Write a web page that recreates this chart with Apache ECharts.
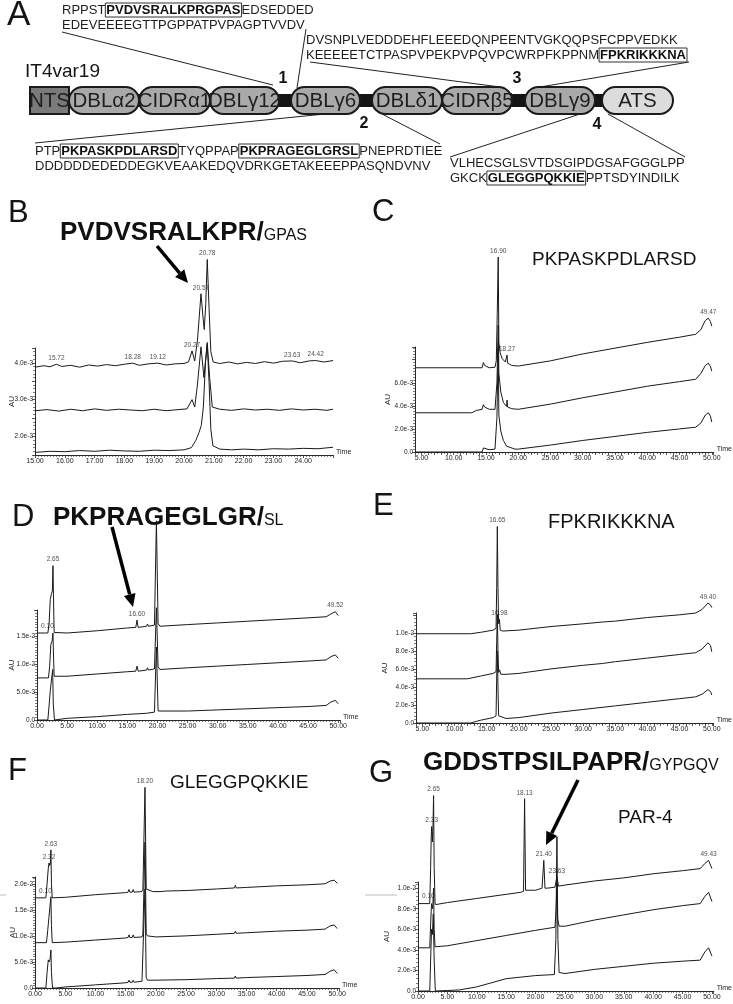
<!DOCTYPE html>
<html><head><meta charset="utf-8">
<script src="https://cdn.jsdelivr.net/npm/echarts@6.0.0/dist/echarts.min.js"></script>
<style>html,body{margin:0;padding:0;background:#fff}#c{width:733px;height:1004px}</style>
</head><body><div id="c"></div>
<script>
// ================= DATA =================
// Panel A
const domainNames = ['NTS','DBLα2','CIDRα1','DBLγ12','DBLγ6','DBLδ1','CIDRβ5','DBLγ9','ATS'];
const seq1 = [[['RPPST',0],['PVDVSRALKPRGPAS',1],['EDSEDDED',0]], [['EDEVEEEEGTTPGPPATPVPAGPTVVDV',0]]];
const seq3 = [[['DVSNPLVEDDDEHFLEEEDQNPEENTVGKQQPSFCPPVEDKK',0]], [['KEEEEETCTPASPVPEKPVPQVPCWRPFKPPNM',0],['FPKRIKKKNA',1]]];
const seq2 = [[['PTP',0],['PKPASKPDLARSD',1],['TYQPPAP',0],['PKPRAGEGLGRSL',1],['PNEPRDTIEE',0]], [['DDDDDDEDEDDEGKVEAAKEDQVDRKGETAKEEEPPASQNDVNV',0]]];
const seq4 = [[['VLHECSGLSVTDSGIPDGSAFGGGLPP',0]], [['GKCK',0],['GLEGGPQKKIE',1],['PPTSDYINDILK',0]]];

// Chromatograms: [time (min), absorbance (x1e-3 AU)]
const B_top = [[15,3.88],[15.3,3.92],[15.5,3.89],[15.72,3.96],[15.9,3.9],[16.2,3.93],[16.5,3.88],[16.8,3.94],[17.1,3.91],[17.4,3.95],[17.7,3.92],[18.0,3.96],[18.28,3.99],[18.5,3.93],[18.8,3.97],[19.12,3.99],[19.4,3.94],[19.7,3.97],[20.0,3.98],[20.15,4.02],[20.27,4.32],[20.36,4.05],[20.45,4.6],[20.57,5.87],[20.63,5.3],[20.68,4.9],[20.73,5.6],[20.78,6.8],[20.84,5.5],[20.9,4.3],[20.98,4.02],[21.2,3.98],[21.5,4.02],[21.8,3.97],[22.1,4.01],[22.4,3.98],[22.7,4.03],[23.0,3.99],[23.3,4.04],[23.63,4.05],[23.9,4.0],[24.2,4.05],[24.42,4.06],[24.7,4.02],[25,4.06]];
const B_mid = [[15,2.7],[15.4,2.73],[15.8,2.69],[16.2,2.74],[16.6,2.7],[17.0,2.75],[17.4,2.71],[17.8,2.74],[18.2,2.72],[18.6,2.7],[19.0,2.74],[19.4,2.7],[19.8,2.73],[20.1,2.75],[20.27,3.0],[20.36,2.8],[20.45,3.4],[20.57,4.43],[20.67,3.6],[20.78,4.55],[20.86,3.6],[20.95,2.8],[21.2,2.74],[21.6,2.71],[22.0,2.75],[22.4,2.72],[22.8,2.74],[23.2,2.71],[23.6,2.75],[24.0,2.72],[24.4,2.74],[24.8,2.71],[25,2.74]];
const B_bot = [[15,1.57],[15.5,1.6],[16,1.59],[16.5,1.62],[17,1.6],[17.5,1.63],[18,1.61],[18.5,1.6],[19,1.63],[19.5,1.62],[20,1.64],[20.25,1.7],[20.4,1.9],[20.5,2.1],[20.58,2.3],[20.65,2.8],[20.72,4.0],[20.78,4.5],[20.84,3.5],[20.9,2.2],[20.97,1.75],[21.2,1.66],[21.6,1.64],[22,1.66],[22.5,1.64],[23,1.67],[23.5,1.66],[24,1.68],[24.5,1.67],[25,1.71]];
const B_peaks = [[15.72,3.96],[18.28,3.99],[19.12,3.99],[20.27,4.32],[20.57,5.87],[20.78,6.8],[23.63,4.05],[24.42,4.06]];

const C_top = [[4,7.3],[14.4,7.3],[14.6,7.75],[14.8,7.5],[15.5,7.3],[16.4,7.35],[16.6,7.9],[16.75,12],[16.9,16.9],[17.0,9.5],[17.2,8.6],[17.5,8.1],[18.0,7.8],[18.2,7.8],[18.27,8.4],[18.35,7.7],[19,7.5],[20,7.45],[25,7.9],[30,8.5],[35,9.0],[40,9.5],[45,9.95],[47.5,10.2],[48.3,10.6],[49.0,11.4],[49.47,11.6],[49.8,11.3],[50,10.9]];
const C_mid = [[4,3.4],[12.8,3.4],[13.5,3.6],[14.4,3.7],[14.6,4.1],[14.8,3.9],[15.5,3.7],[16.4,3.7],[16.7,6],[16.9,11],[17.0,6.8],[17.3,5.2],[17.7,4.3],[18.2,3.95],[18.27,4.5],[18.35,3.9],[19,3.75],[20,3.7],[25,4.15],[30,4.7],[35,5.2],[40,5.7],[45,6.1],[47.5,6.3],[48.3,6.8],[49.0,7.5],[49.47,7.7],[49.8,7.4],[50,7.0]];
const C_bot = [[4,0],[14.4,0],[14.6,0.35],[14.8,0.3],[15.5,0.2],[16.4,0.25],[16.7,3],[16.9,9],[17.0,3.2],[17.3,1.8],[17.7,1.0],[18.2,0.5],[18.27,0.6],[18.5,0.35],[19.5,0.25],[20,0.25],[25,0.6],[30,1.0],[35,1.35],[40,1.7],[45,2.0],[47.5,2.15],[48.3,2.5],[49.0,3.2],[49.47,3.4],[49.8,3.1],[50,2.6]];
const C_peaks = [[16.90,16.9],[18.27,8.4],[49.47,11.6]];

const D_top = [[0,15.5],[1.8,15.5],[2.0,17],[2.2,21.5],[2.4,22.5],[2.55,23],[2.65,27.5],[2.75,21],[2.85,15.6],[3.0,15.4],[5,15.5],[10,15.9],[15,16.4],[16.4,16.5],[16.6,17.8],[16.8,16.5],[18.2,16.7],[18.35,17.1],[18.5,16.7],[19.5,16.9],[19.82,35.5],[20.1,17.2],[20.4,16.7],[25,17.0],[30,17.3],[35,17.6],[40,17.9],[45,18.2],[48,18.4],[48.8,18.9],[49.52,19.3],[50,18.6]];
const D_mid = [[0,7.5],[1.9,7.5],[2.1,9.5],[2.3,13.5],[2.5,14],[2.65,15.5],[2.75,11],[2.85,7.8],[3.0,7.6],[5,7.8],[10,8.2],[15,8.6],[16.4,8.7],[16.6,9.6],[16.8,8.7],[18.2,8.9],[18.35,9.3],[18.5,8.9],[19.5,9.1],[19.82,20],[20.1,9.5],[20.4,9.0],[25,9.3],[30,9.6],[35,9.9],[40,10.2],[45,10.5],[48,10.7],[48.8,11.3],[49.52,11.6],[50,11.0]];
const D_bot = [[0,0],[1.8,0],[2.0,2.5],[2.2,5.2],[2.45,5.0],[2.6,9],[2.7,3],[2.9,0],[3.2,0],[5,0.3],[10,0.6],[15,1.0],[18.2,1.2],[18.35,1.5],[18.5,1.2],[19.5,1.4],[19.82,13],[20.1,1.6],[20.4,1.3],[25,1.6],[30,1.8],[35,2.0],[40,2.2],[45,2.4],[48,2.6],[48.8,3.2],[49.52,3.5],[50,2.9]];
const D_peaks = [[0.10,15.5],[2.65,27.5],[16.60,17.8],[49.52,19.3]];

const E_top = [[4,9.9],[12.5,9.9],[14,10.05],[16,10.3],[16.45,10.5],[16.55,15],[16.65,21.8],[16.75,15],[16.85,11],[16.98,11.5],[17.1,10.3],[17.5,10.2],[20,10.3],[25,10.7],[30,11.0],[33,11.2],[33.15,11.4],[33.3,11.2],[35,11.3],[40,11.7],[45,12.0],[47.5,12.2],[48.5,12.6],[49.4,13.3],[49.8,13.1],[50,12.8]];
const E_mid = [[4,4.9],[12,4.9],[14,5.2],[16,5.5],[16.45,5.7],[16.55,9],[16.65,12],[16.75,8],[16.85,5.6],[17.0,5.9],[17.2,5.4],[18,5.4],[20,5.5],[25,6.0],[30,6.4],[33,6.6],[33.15,6.8],[33.3,6.6],[35,6.8],[40,7.2],[45,7.6],[47.5,7.8],[48.5,8.2],[49.4,8.9],[49.8,8.6],[50,7.9]];
const E_bot = [[4,0],[12.5,0],[14,0.3],[16,0.6],[16.45,0.8],[16.55,5],[16.65,8],[16.75,4],[16.85,0.8],[17.0,0.6],[18,0.5],[20,0.6],[25,1.1],[30,1.5],[35,1.9],[40,2.3],[45,2.7],[47.5,2.9],[48.5,3.2],[49.4,3.7],[49.8,3.5],[50,3.1]];
const E_peaks = [[16.65,21.8],[16.98,11.5],[49.40,13.3]];

const F_top = [[0,17.3],[1.8,17.3],[2.0,20],[2.2,23],[2.32,24],[2.45,23.5],[2.55,24],[2.63,26.5],[2.72,20],[2.85,17.3],[3.0,17.2],[5,17.4],[10,17.9],[15,18.3],[15.4,18.4],[15.55,18.9],[15.7,18.4],[16.1,18.4],[16.25,18.9],[16.4,18.4],[17.7,18.5],[17.85,18.9],[18.0,18.6],[18.2,38.5],[18.4,19],[18.6,18.8],[19.5,18.5],[21,18.5],[21.5,18.6],[25,18.7],[30,19.0],[33,19.2],[33.15,19.7],[33.3,19.2],[35,19.3],[40,19.6],[45,19.8],[48,20.0],[48.8,20.5],[49.5,20.7],[50,20.1]];
const F_mid = [[0,8.7],[1.9,8.7],[2.1,11],[2.3,13.5],[2.5,13.7],[2.63,17.5],[2.72,12],[2.85,8.7],[3.0,8.6],[5,8.8],[10,9.2],[15,9.6],[15.4,9.7],[15.55,10.2],[15.7,9.7],[16.1,9.7],[16.25,10.2],[16.4,9.7],[17.7,9.8],[17.85,10.2],[18.0,9.9],[18.2,28],[18.4,10.4],[18.6,10.0],[20,9.8],[25,10.0],[30,10.3],[33,10.5],[33.15,10.9],[33.3,10.5],[35,10.6],[40,10.9],[45,11.1],[48,11.3],[48.8,11.9],[49.5,12.1],[50,11.4]];
const F_bot = [[0,0],[1.8,0],[2.0,3],[2.2,5.4],[2.35,5.0],[2.5,5.5],[2.63,7.3],[2.72,3],[2.9,0],[3.5,0],[5,0.2],[10,0.6],[15,1.0],[15.4,1.1],[15.55,1.5],[15.7,1.1],[16.1,1.1],[16.25,1.5],[16.4,1.1],[17.7,1.3],[17.85,1.6],[18.0,1.4],[18.2,19],[18.4,2.0],[18.6,1.5],[20,1.5],[25,1.6],[30,1.8],[33,1.9],[33.15,2.3],[33.3,1.9],[35,2.0],[40,2.2],[45,2.4],[48,2.6],[48.8,3.2],[49.5,3.5],[50,2.8]];
const F_peaks = [[0.10,17.3],[2.32,24],[2.63,26.5],[18.20,38.5]];

const G_top = [[0,8.5],[2.0,8.5],[2.15,12],[2.25,15],[2.33,16],[2.45,14.5],[2.55,16],[2.65,19],[2.75,12],[2.9,8.6],[3.0,8.4],[5,8.6],[10,9.0],[15,9.4],[17.5,9.6],[17.95,9.7],[18.13,18.7],[18.3,9.8],[20,9.8],[21.1,10.0],[21.4,12.7],[21.6,10.0],[22,10.0],[23.3,10.1],[23.63,11.1],[23.9,10.2],[25,10.3],[30,10.7],[35,11.0],[40,11.4],[45,11.7],[48,11.9],[48.8,12.4],[49.43,12.7],[50,11.9]];
const G_mid = [[0,4.2],[2.0,4.2],[2.15,6.5],[2.3,8.5],[2.5,8.0],[2.65,10],[2.75,6],[2.9,4.3],[3.0,4.2],[5,4.4],[10,4.9],[15,5.4],[20,5.9],[23.3,6.2],[23.5,8],[23.63,10.5],[23.75,7],[24,6.3],[25,6.3],[30,6.9],[35,7.4],[40,7.9],[45,8.3],[48,8.5],[48.8,9.2],[49.43,9.6],[50,8.7]];
const G_bot = [[0,0],[2.0,0],[2.15,3],[2.3,6],[2.45,5.5],[2.6,7.5],[2.75,3],[2.95,0],[5,0.05],[7,0.1],[10,0.4],[15,1.2],[20,1.5],[23.2,1.6],[23.45,5],[23.63,15],[23.8,5],[24.0,1.8],[25,1.7],[30,2.1],[35,2.4],[40,2.7],[45,2.9],[48,3.0],[48.8,3.8],[49.43,4.2],[50,3.4]];
const G_peaks = [[0.10,8.5],[2.33,16],[2.65,19],[18.13,18.7],[21.40,12.7],[23.63,11.1],[49.43,12.7]];

// y tick labels (x1e-3 AU)
const B_yTicks = [2,3,4];
const C_yTicks = [0,2,4,6];
const D_yTicks = [0,5,10,15];
const E_yTicks = [0,2,4,6,8,10];
const F_yTicks = [0,5,10,15,20];
const G_yTicks = [0,2,4,6,8,10];

// ================= LAYOUT =================
const FONT = '"Liberation Sans", Arial, Helvetica, sans-serif';
const panels = [
  {grid:{left:35,top:348,width:298,height:107}, au:19, x:{min:15,max:25,interval:1,minor:10,step:1}, y:{min:1.5,max:4.4,interval:0.5,minor:5,ticks:B_yTicks}, traces:[B_top,B_mid,B_bot], peaks:B_peaks},
  {grid:{left:415,top:347,width:302,height:105}, au:23, x:{min:4,max:50.3,interval:1,minor:2,step:5}, y:{min:0,max:9.1,interval:2,minor:8,ticks:C_yTicks}, traces:[C_top,C_mid,C_bot], peaks:C_peaks},
  {grid:{left:37,top:610,width:303,height:110}, au:21, x:{min:0,max:50.3,interval:5,minor:10,step:5}, y:{min:0,max:19.6,interval:5,minor:10,ticks:D_yTicks}, traces:[D_top,D_mid,D_bot], peaks:D_peaks},
  {grid:{left:416,top:613,width:301,height:110}, au:27, x:{min:4,max:50.3,interval:1,minor:2,step:5}, y:{min:0,max:12.2,interval:2,minor:5,ticks:E_yTicks}, traces:[E_top,E_mid,E_bot], peaks:E_peaks},
  {grid:{left:35,top:877,width:304,height:111}, au:18, x:{min:0,max:50.3,interval:5,minor:10,step:5}, y:{min:0,max:21.3,interval:5,minor:10,ticks:F_yTicks}, traces:[F_top,F_mid,F_bot], peaks:F_peaks},
  {grid:{left:418,top:882,width:301,height:109}, au:27, x:{min:0,max:50.3,interval:5,minor:10,step:5}, y:{min:0,max:10.6,interval:2,minor:5,ticks:G_yTicks}, traces:[G_top,G_mid,G_bot], peaks:G_peaks}
];

const near = (a,b)=>Math.abs(a-b)<1e-6;
const fmtY = v => near(v,0) ? '0.0' : (v/1000).toExponential(1);
const AX = '#2a2a2a';

const grids=[], xAxes=[], yAxes=[], series=[];
panels.forEach((p,i)=>{
  grids.push(Object.assign({containLabel:false}, p.grid));
  xAxes.push({type:'value', gridIndex:i, min:p.x.min, max:p.x.max, interval:p.x.interval,
    name:'Time', nameLocation:'end', nameGap:3, nameMoveOverlap:false, nameTextStyle:{fontSize:7, fontFamily:FONT, color:'#222', verticalAlign:'top', padding:[-6,0,0,0]},
    axisLine:{lineStyle:{color:AX,width:1}}, axisTick:{length:3,lineStyle:{color:AX,width:0.8}},
    minorTick:{show:true, splitNumber:p.x.minor, length:2, lineStyle:{color:AX,width:0.6}},
    splitLine:{show:false},
    axisLabel:{fontSize:7, fontFamily:FONT, color:'#222', margin:3, showMinLabel:true, showMaxLabel:false,
      formatter: v => { const r=v/p.x.step; return near(r,Math.round(r)) ? v.toFixed(2) : ''; }}});
  yAxes.push({type:'value', gridIndex:i, min:p.y.min, max:p.y.max, interval:p.y.interval,
    name:'AU', nameLocation:'middle', nameGap:p.au, nameRotate:90, nameMoveOverlap:false, nameTextStyle:{fontSize:8, fontFamily:FONT, color:'#222'},
    axisLine:{show:true, lineStyle:{color:AX,width:1}}, axisTick:{show:true,length:3,lineStyle:{color:AX,width:0.8}},
    minorTick:{show:true, splitNumber:p.y.minor, length:2, lineStyle:{color:AX,width:0.6}},
    splitLine:{show:false},
    axisLabel:{fontSize:6.5, fontFamily:FONT, color:'#222', margin:2, showMaxLabel:false,
      formatter: v => p.y.ticks.some(t=>near(t,v)) ? fmtY(v) : ''}});
  p.traces.forEach(t=>series.push({type:'line', xAxisIndex:i, yAxisIndex:i, data:t, symbol:'none', clip:false,
    lineStyle:{color:'#1a1a1a', width:1}, z:3, silent:true}));
  series.push({type:'scatter', xAxisIndex:i, yAxisIndex:i, clip:false, symbolSize:1, itemStyle:{color:'rgba(0,0,0,0)'},
    data:p.peaks.map(v => v[0] < 1 ? {value:v, label:{position:'insideBottomLeft', offset:[2,-2]}} : v),
    label:{show:true, position:'top', distance:2, fontSize:6.5, fontFamily:FONT, color:'#222',
      formatter: q => q.value[0].toFixed(2)}, z:4, silent:true});
});

// ================= GRAPHICS (panel A, letters, titles) =================
const G = [];
function txt(x,y,text,size,extra){ G.push({type:'text', x, y, z:10, silent:true,
  style:Object.assign({text, fontSize:size, fontFamily:FONT, fill:'#141414', verticalAlign:'middle', align:'left'}, extra||{})}); }
function line(x1,y1,x2,y2,w,c){ G.push({type:'line', z:5, silent:true, shape:{x1,y1,x2,y2}, style:{stroke:c||'#222', lineWidth:w||1}}); }
const SEQ = 13;
const seqRich = {
  n:{fontSize:SEQ, fontFamily:FONT, fill:'#1e1e1e', color:'#1e1e1e'},
  b:{fontSize:SEQ, fontFamily:FONT, fontWeight:'bold', fill:'#111', color:'#111', borderColor:'#333', borderWidth:1, padding:[1,1,0,1]}
};
function seqLine(x,y,parts){ G.push({type:'text', x, y, z:10, silent:true, style:{text: parts.map(p=>'{'+(p[1]?'b':'n')+'|'+p[0]+'}').join(''), rich:seqRich, verticalAlign:'middle', align:'left'}}); }

// Panel A
txt(7,15,'A',35);
txt(25,72,'IT4var19',19);
G.push({type:'rect', z:4, silent:true, shape:{x:69,y:94,width:541,height:13}, style:{fill:'#141414'}});
const domainX = [[30,69],[69,139],[139,210],[210,279],[291,360],[372,442],[442,512],[525,595],[602,673]];
domainNames.forEach((n,i)=>{
  const [x0,x1] = domainX[i];
  const isNTS = i===0, isATS = i===domainNames.length-1;
  G.push({type:'rect', z:6, silent:true, shape:{x:x0,y:87,width:x1-x0,height:27,r:isNTS?0:13.5},
    style:{fill:isNTS?'#7a7a7a':(isATS?'#dcdcdc':'#a9a9a9'), stroke:'#1a1a1a', lineWidth:2}});
  txt((x0+x1)/2, 101, n, 20.5, {align:'center', fill:'#1e1e1e'});
});
[['1',283,79],['2',364,124],['3',517,79],['4',597,125]].forEach(d=>txt(d[1],d[2],d[0],16,{fontWeight:'bold',align:'center'}));
seqLine(62,10,seq1[0]); seqLine(62,25,seq1[1]);
seqLine(306,40,seq3[0]); seqLine(306,55,seq3[1]);
seqLine(35,151,seq2[0]); seqLine(35,166,seq2[1]);
seqLine(450,163,seq4[0]); seqLine(450,178,seq4[1]);
line(62,32,273,85); line(306,29,297,88);
line(310,62,500,87); line(689,62,540,87);
line(35,143,325,114); line(382,114,440,144);
line(450,157,580,114); line(685,157,608,114);

// panel letters
txt(8,213,'B',31); txt(372,212,'C',31); txt(12,517,'D',31); txt(373,506,'E',31); txt(8,771,'F',31); txt(369,773,'G',31);

// titles
const titleRich = {
  b:{fontSize:26, fontFamily:FONT, fontWeight:'bold', fill:'#111', color:'#111', verticalAlign:'bottom'},
  s:{fontSize:16, fontFamily:FONT, fill:'#111', color:'#111', verticalAlign:'bottom', padding:[0,0,2,0]}
};
function title(x,y,bold,small){ G.push({type:'text', x, y, z:10, silent:true, style:{text:'{b|'+bold+'}{s|'+small+'}', rich:titleRich, verticalAlign:'middle', align:'left'}}); }
title(60,233,'PVDVSRALKPR/','GPAS');
title(53,518,'PKPRAGEGLGR/','SL');
title(423,763,'GDDSTPSILPAPR/','GYPGQV');
txt(532,260,'PKPASKPDLARSD',19);
txt(548,522,'FPKRIKKKNA',20);
txt(170,783,'GLEGGPQKKIE',19);
txt(618,818,'PAR-4',19);

// arrows
function arrow(x1,y1,x2,y2){ const dx=x2-x1, dy=y2-y1, L=Math.hypot(dx,dy), ux=dx/L, uy=dy/L, hl=13, hw=6;
  const bx=x2-ux*hl, by=y2-uy*hl;
  line(x1,y1,bx,by,3.5,'#000');
  G.push({type:'polygon', z:6, silent:true, shape:{points:[[x2,y2],[bx-uy*hw,by+ux*hw],[bx+uy*hw,by-ux*hw]]}, style:{fill:'#000'}}); }
arrow(157,246,188,283);
arrow(112,527,133,607);
arrow(578,780,546,845);

// scan artefacts
line(0,895,6,895,1,'#bdbdbd'); line(365,895,397,895,1,'#bdbdbd');

const chart = echarts.init(document.getElementById('c'), null, {renderer:'canvas'});
chart.setOption({animation:false, backgroundColor:'#fff', grid:grids, xAxis:xAxes, yAxis:yAxes, series, graphic:G});
</script></body></html>
